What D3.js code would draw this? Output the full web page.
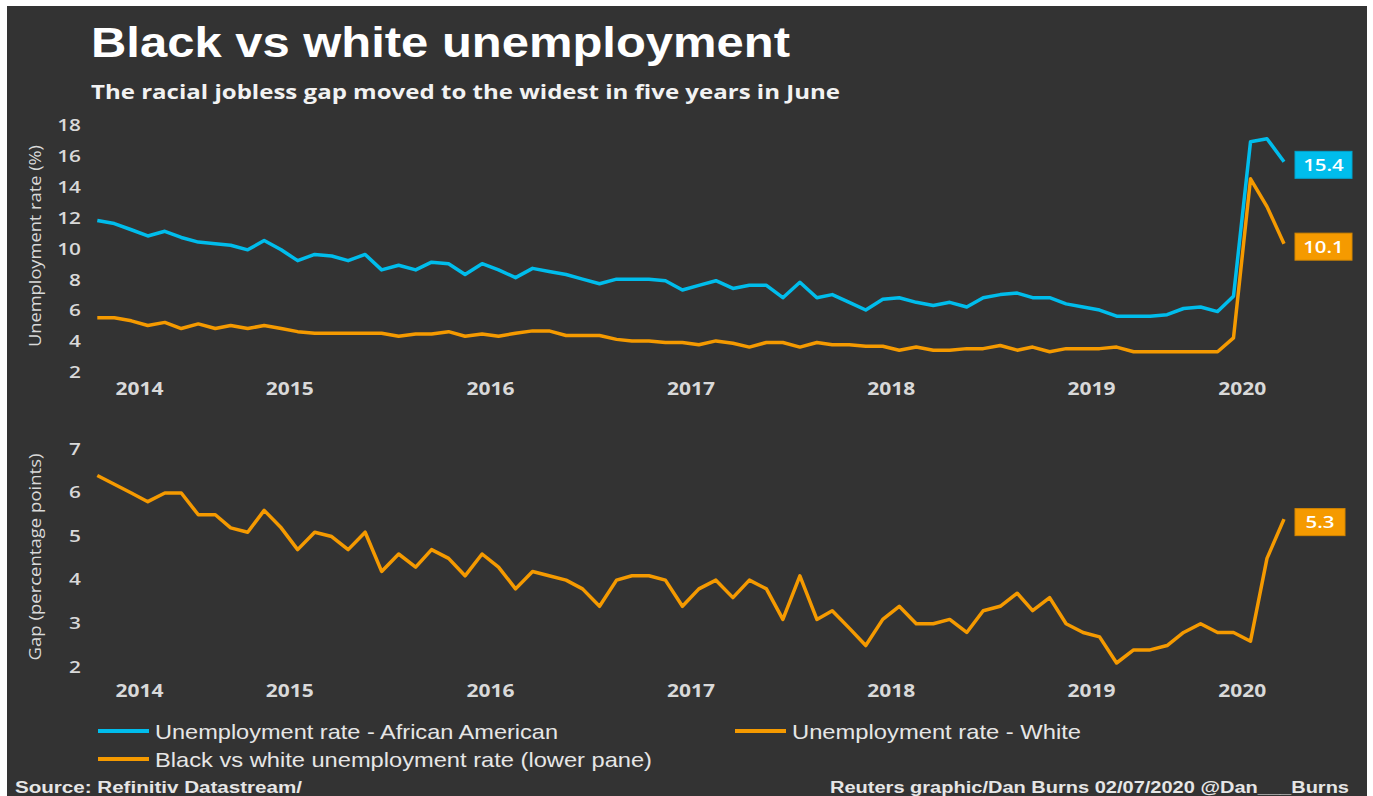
<!DOCTYPE html>
<html>
<head>
<meta charset="utf-8">
<script src="https://cdn.jsdelivr.net/npm/d3@7"></script>
<style>
  html, body { margin: 0; padding: 0; background: #fff; }
  svg { display: block; }
</style>
</head>
<body>
<svg id="chart" width="1373" height="796"></svg>
<script>
// monthly data, Jul 2014 - Jun 2020
var startMonth = "2014-07";
var blackRate = [11.6, 11.4, 11.0, 10.6, 10.9, 10.5, 10.2, 10.1, 10.0, 9.7,
                 10.3, 9.7, 9.0, 9.4, 9.3, 9.0, 9.4, 8.4, 8.7, 8.4,
                 8.9, 8.8, 8.1, 8.8, 8.4, 7.9, 8.5, 8.3, 8.1, 7.8,
                 7.5, 7.8, 7.8, 7.8, 7.7, 7.1, 7.4, 7.7, 7.2, 7.4,
                 7.4, 6.6, 7.6, 6.6, 6.8, 6.3, 5.8, 6.5, 6.6, 6.3,
                 6.1, 6.3, 6.0, 6.6, 6.8, 6.9, 6.6, 6.6, 6.2, 6.0,
                 5.8, 5.4, 5.4, 5.4, 5.5, 5.9, 6.0, 5.7, 6.7, 16.7,
                 16.9, 15.4];
var whiteRate = [5.3, 5.3, 5.1, 4.8, 5.0, 4.6, 4.9, 4.6, 4.8, 4.6,
                 4.8, 4.6, 4.4, 4.3, 4.3, 4.3, 4.3, 4.3, 4.1, 4.25,
                 4.25, 4.4, 4.1, 4.25, 4.1, 4.3, 4.45, 4.45, 4.15, 4.15,
                 4.15, 3.9, 3.8, 3.8, 3.7, 3.7, 3.55, 3.8, 3.65, 3.4,
                 3.7, 3.7, 3.4, 3.7, 3.55, 3.55, 3.45, 3.45, 3.2, 3.4,
                 3.2, 3.2, 3.3, 3.3, 3.5, 3.2, 3.4, 3.1, 3.3, 3.3,
                 3.3, 3.4, 3.1, 3.1, 3.1, 3.1, 3.1, 3.1, 4.0, 14.3,
                 12.5, 10.1];
var gapRate = [6.3, 6.1, 5.9, 5.7, 5.9, 5.9, 5.4, 5.4, 5.1, 5.0,
               5.5, 5.1, 4.6, 5.0, 4.9, 4.6, 5.0, 4.1, 4.5, 4.2,
               4.6, 4.4, 4.0, 4.5, 4.2, 3.7, 4.1, 4.0, 3.9, 3.7,
               3.3, 3.9, 4.0, 4.0, 3.9, 3.3, 3.7, 3.9, 3.5, 3.9,
               3.7, 3.0, 4.0, 3.0, 3.2, 2.8, 2.4, 3.0, 3.3, 2.9,
               2.9, 3.0, 2.7, 3.2, 3.3, 3.6, 3.2, 3.5, 2.9, 2.7,
               2.6, 2.0, 2.3, 2.3, 2.4, 2.7, 2.9, 2.7, 2.7, 2.5,
               4.4, 5.3];
var yearLabels = ["2014", "2015", "2016", "2017", "2018", "2019", "2020"];
var topTicks = [2, 4, 6, 8, 10, 12, 14, 16, 18];
var gapTicks = [2, 3, 4, 5, 6, 7];
var legendItems = [
  {label: "Unemployment rate - African American", color: "blue"},
  {label: "Unemployment rate - White", color: "orange"},
  {label: "Black vs white unemployment rate (lower pane)", color: "orange"}
];

var BLUE = "#00bdec", ORANGE = "#f59a00", BG = "#333333", TXT = "#d9d9d9";

var start = d3.timeParse("%Y-%m")(startMonth);
var months = d3.timeMonth.range(start, d3.timeMonth.offset(start, blackRate.length));

var svg = d3.select("#chart");

svg.append("rect")
   .attr("x", 7).attr("y", 6)
   .attr("width", 1360).attr("height", 790)
   .attr("fill", BG);

// stretch text horizontally, the original picture is wide
function widen(sel, k) {
  sel.each(function() {
    var n = this.getComputedTextLength();
    d3.select(this).attr("textLength", n * k).attr("lengthAdjust", "spacingAndGlyphs");
  });
}
function fit(sel, w) {
  sel.attr("textLength", w).attr("lengthAdjust", "spacingAndGlyphs");
}

// titles
svg.append("text")
   .attr("x", 91).attr("y", 57)
   .attr("font-family", "Liberation Sans, Arial, sans-serif")
   .attr("font-weight", "bold")
   .attr("font-size", 42)
   .attr("fill", "#ffffff")
   .text("Black vs white unemployment")
   .call(fit, 699);

svg.append("text")
   .attr("x", 91).attr("y", 99)
   .attr("font-family", "Open Sans, sans-serif")
   .attr("font-weight", 700)
   .attr("font-size", 20)
   .attr("fill", "#f2f2f2")
   .text("The racial jobless gap moved to the widest in five years in June")
   .call(fit, 749);

var x = d3.scaleTime()
          .domain([months[0], months[months.length - 1]])
          .range([97.3, 1284]);

var yTop = d3.scaleLinear().domain([2, 18]).range([368.7, 121.7]);
var yGap = d3.scaleLinear().domain([2, 7]).range([663, 445]);

var line = function(scale, values) {
  return d3.line()
           .x(function(d, i) { return x(months[i]); })
           .y(function(d) { return scale(d); })(values);
};

function yAxis(scale, ticks) {
  var g = svg.append("g")
             .attr("transform", "translate(81,0)")
             .call(d3.axisLeft(scale).tickValues(ticks).tickFormat(d3.format("d")).tickSize(0).tickPadding(0));
  g.select(".domain").remove();
  g.selectAll("text")
   .attr("font-family", "Open Sans, sans-serif")
   .attr("font-weight", 600)
   .attr("font-size", 16)
   .attr("fill", TXT)
   .attr("dy", 9)
   .call(widen, 1.3);
  return g;
}
yAxis(yTop, topTicks);
yAxis(yGap, gapTicks);

// year labels centred on each year's months
function yearAxis(baseline) {
  svg.append("g").selectAll("text")
     .data(yearLabels)
     .enter().append("text")
     .attr("x", function(yr) {
       return d3.mean(months.filter(function(m) { return m.getFullYear() === +yr; }), function(m) { return x(m); });
     })
     .attr("y", baseline)
     .attr("text-anchor", "middle")
     .attr("font-family", "Open Sans, sans-serif")
     .attr("font-weight", 700)
     .attr("font-size", 17)
     .attr("fill", TXT)
     .text(function(d) { return d; })
     .call(fit, 48);
}
yearAxis(395);
yearAxis(697);

// axis titles
svg.append("text")
   .attr("transform", "translate(41,246) rotate(-90)")
   .attr("text-anchor", "middle")
   .attr("font-family", "Open Sans, sans-serif")
   .attr("font-size", 16)
   .attr("fill", TXT)
   .text("Unemployment rate (%)")
   .call(fit, 202);

svg.append("text")
   .attr("transform", "translate(41,557) rotate(-90)")
   .attr("text-anchor", "middle")
   .attr("font-family", "Open Sans, sans-serif")
   .attr("font-size", 16)
   .attr("fill", TXT)
   .text("Gap (percentage points)")
   .call(fit, 207);

// lines
svg.append("path").attr("d", line(yTop, whiteRate))
   .attr("fill", "none").attr("stroke", ORANGE).attr("stroke-width", 3.5).attr("stroke-linejoin", "round");
svg.append("path").attr("d", line(yTop, blackRate))
   .attr("fill", "none").attr("stroke", BLUE).attr("stroke-width", 3.5).attr("stroke-linejoin", "round");
svg.append("path").attr("d", line(yGap, gapRate))
   .attr("fill", "none").attr("stroke", ORANGE).attr("stroke-width", 3.5).attr("stroke-linejoin", "round");

// last value boxes
function lastBox(scale, values, color, w) {
  var v = values[values.length - 1];
  var cy = scale(v) + 3;
  svg.append("rect")
     .attr("x", 1295).attr("y", cy - 13.5)
     .attr("width", w).attr("height", 27)
     .attr("fill", color)
     .attr("stroke", d3.color(color).darker(0.4))
     .attr("stroke-width", 1);
  svg.append("text")
     .attr("x", 1295 + w / 2).attr("y", cy + 6)
     .attr("text-anchor", "middle")
     .attr("font-family", "Open Sans, sans-serif")
     .attr("font-weight", 600)
     .attr("font-size", 17)
     .attr("fill", "#ffffff")
     .text(d3.format(".1f")(v))
     .call(widen, 1.2);
}
lastBox(yTop, blackRate, BLUE, 57);
lastBox(yTop, whiteRate, ORANGE, 57);
lastBox(yGap, gapRate, ORANGE, 50);

// legend
var legendPos = [
  {x: 98, y: 731, w: 403},
  {x: 735, y: 731, w: 289},
  {x: 98, y: 759, w: 497}
];
var lg = svg.append("g").selectAll("g")
            .data(legendItems)
            .enter().append("g")
            .attr("transform", function(d, i) { return "translate(" + legendPos[i].x + "," + legendPos[i].y + ")"; });
lg.append("line")
  .attr("x1", 0).attr("x2", 51)
  .attr("stroke", function(d) { return d.color === "blue" ? BLUE : ORANGE; })
  .attr("stroke-width", 4);
lg.append("text")
  .attr("x", 57).attr("y", 8)
  .attr("font-family", "Liberation Sans, Arial, sans-serif")
  .attr("font-size", 21)
  .attr("fill", "#e6e6e6")
  .text(function(d) { return d.label; })
  .each(function(d, i) { d3.select(this).call(fit, legendPos[i].w); });

// footer
svg.append("text")
   .attr("x", 15).attr("y", 793)
   .attr("font-family", "Liberation Sans, Arial, sans-serif")
   .attr("font-weight", "bold")
   .attr("font-size", 16)
   .attr("fill", "#e6e6e6")
   .text("Source: Refinitiv Datastream/")
   .call(fit, 287);

svg.append("text")
   .attr("x", 830).attr("y", 793)
   .attr("font-family", "Liberation Sans, Arial, sans-serif")
   .attr("font-weight", "bold")
   .attr("font-size", 16)
   .attr("fill", "#e6e6e6")
   .text("Reuters graphic/Dan Burns 02/07/2020 @Dan___Burns")
   .call(fit, 519);
</script>
</body>
</html>
